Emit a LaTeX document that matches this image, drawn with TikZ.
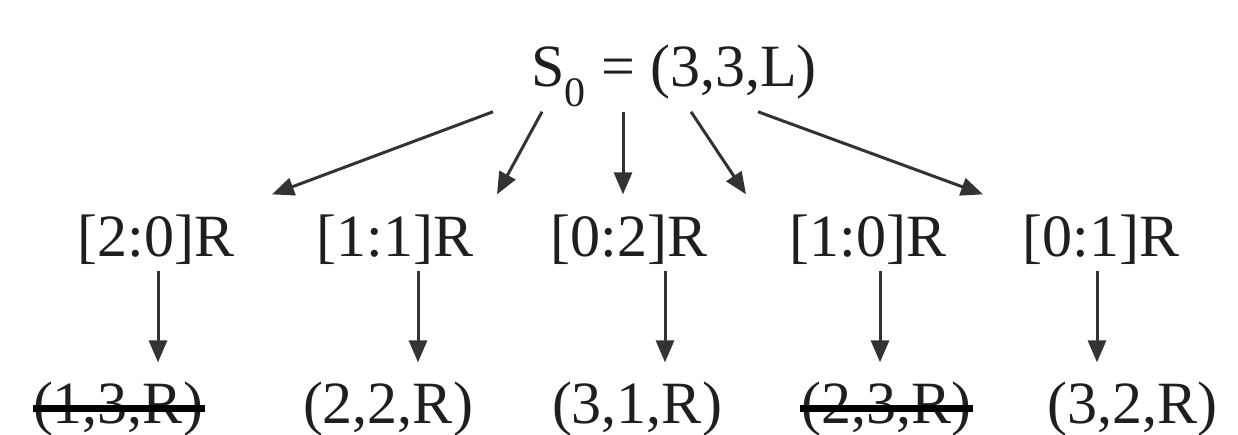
\documentclass[tikz,border=0pt]{standalone}
\usepackage{fontspec}
\setmainfont{Liberation Serif}
\usetikzlibrary{arrows.meta}
\begin{document}
\begin{tikzpicture}[x=1pt,y=-1pt,
  lbl/.style={inner sep=0pt, outer sep=0pt, font=\fontsize{60}{72}\selectfont, text=black!88, anchor=base},
  arr/.style={draw=black!80, line width=3pt, -{Triangle[length=22pt,width=18pt]}},
  strike/.style={draw=black, line width=7pt}]
\useasboundingbox (0,0) rectangle (1238,435);
\fill[white] (0,0) rectangle (1238,435);
% top
\node[lbl] (s0) at (674,87) {S\textsubscript{0} = (3,3,L)};
% middle row
\node[lbl] (a) at (156,257) {[2:0]R};
\node[lbl] (b) at (395,257) {[1:1]R};
\node[lbl] (c) at (629,257) {[0:2]R};
\node[lbl] (d) at (868,257) {[1:0]R};
\node[lbl] (e) at (1101,257) {[0:1]R};
% bottom row
\node[lbl] (r1) at (118,423) {(1,3,R)};
\node[lbl] (r2) at (388,423) {(2,2,R)};
\node[lbl] (r3) at (637,423) {(3,1,R)};
\node[lbl] (r4) at (886,423) {(2,3,R)};
\node[lbl] (r5) at (1132,423) {(3,2,R)};
% arrows from the root
\draw[arr] ([xshift=-181pt,yshift=-5pt]s0.south) -- ([xshift=116pt,yshift=21pt]a.north);
\draw[arr] ([xshift=-132pt,yshift=-5pt]s0.south) -- ([xshift=102pt,yshift=21pt]b.north);
\draw[arr] ([xshift=-51pt,yshift=-5pt]s0.south) -- ([xshift=-6pt,yshift=21pt]c.north);
\draw[arr] ([xshift=17pt,yshift=-5pt]s0.south) -- ([xshift=-122pt,yshift=21pt]d.north);
\draw[arr] ([xshift=84pt,yshift=-5pt]s0.south) -- ([xshift=-118pt,yshift=21pt]e.north);
% vertical arrows
\draw[arr] ([xshift=2pt,yshift=-6pt]a.south) -- ([xshift=40pt,yshift=19pt]r1.north);
\draw[arr] ([xshift=23pt,yshift=-6pt]b.south) -- ([xshift=30pt,yshift=19pt]r2.north);
\draw[arr] ([xshift=36pt,yshift=-6pt]c.south) -- ([xshift=28pt,yshift=19pt]r3.north);
\draw[arr] ([xshift=12pt,yshift=-6pt]d.south) -- ([xshift=-6pt,yshift=19pt]r4.north);
\draw[arr] ([xshift=-4pt,yshift=-6pt]e.south) -- ([xshift=-35pt,yshift=19pt]r5.north);
% strike-outs
\draw[strike] ([yshift=15pt]r1.base west) -- ([xshift=2pt,yshift=15pt]r1.base east);
\draw[strike] ([xshift=-1pt,yshift=15pt]r4.base west) -- ([xshift=2pt,yshift=15pt]r4.base east);
\end{tikzpicture}
\end{document}
